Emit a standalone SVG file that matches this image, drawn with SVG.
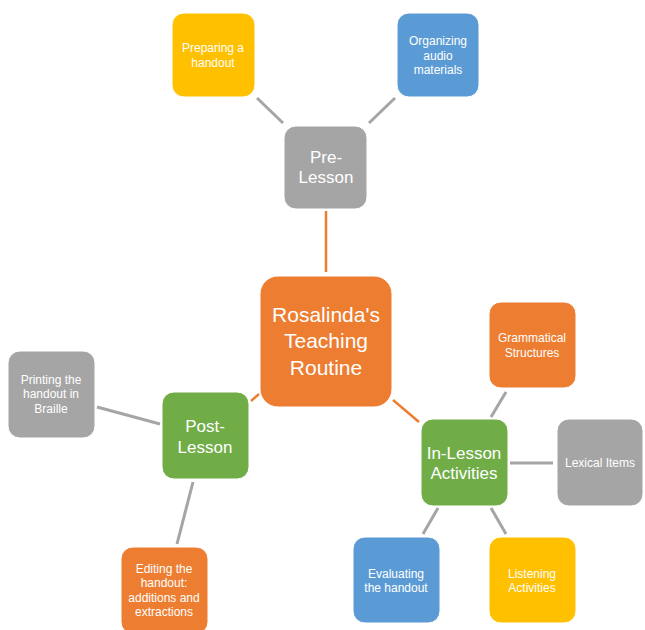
<svg xmlns="http://www.w3.org/2000/svg" width="645" height="630" viewBox="0 0 645 630">
  <style>
    .box { stroke: #ffffff; stroke-width: 1; }
    .orange { fill: #ED7D31; }
    .gray { fill: #A5A5A5; }
    .yellow { fill: #FFC000; }
    .blue { fill: #5B9BD5; }
    .green { fill: #70AD47; }
    text { font-family: "Liberation Sans", Arial, sans-serif; fill: #ffffff; text-anchor: middle; }
    .small { font-size: 12px; }
    .mid { font-size: 17px; }
    .big { font-size: 21px; }
    .link-gray { stroke: #A5A5A5; stroke-width: 3; fill: none; }
    .link-orange { stroke: #ED7D31; stroke-width: 2.5; fill: none; }
  </style>
  <rect width="645" height="630" fill="#ffffff"/>

  <!-- connectors -->
  <g id="connectors">
    <line class="link-orange" x1="326" y1="211" x2="326" y2="272"/>
    <line class="link-orange" x1="251" y1="401" x2="259" y2="394"/>
    <line class="link-orange" x1="393" y1="400" x2="419" y2="422"/>
    <line class="link-gray" x1="257" y1="98" x2="283" y2="123"/>
    <line class="link-gray" x1="395" y1="98" x2="369" y2="123"/>
    <line class="link-gray" x1="97" y1="407" x2="160" y2="424"/>
    <line class="link-gray" x1="193" y1="482" x2="177" y2="544"/>
    <line class="link-gray" x1="491" y1="417" x2="506" y2="392"/>
    <line class="link-gray" x1="510" y1="463" x2="553" y2="463"/>
    <line class="link-gray" x1="438" y1="508" x2="423" y2="534"/>
    <line class="link-gray" x1="491" y1="508" x2="506" y2="534"/>
  </g>

  <!-- central node -->
  <g id="routine">
    <rect class="box orange" x="260" y="276" width="132" height="131" rx="18"/>
    <text class="big" x="326" y="322">Rosalinda's</text>
    <text class="big" x="326" y="348">Teaching</text>
    <text class="big" x="326" y="375">Routine</text>
  </g>

  <!-- pre-lesson branch -->
  <g id="pre-lesson">
    <rect class="box gray" x="284" y="126" width="83" height="83" rx="12"/>
    <text class="mid" x="326" y="163">Pre-</text>
    <text class="mid" x="326" y="183">Lesson</text>
  </g>
  <g id="preparing-handout">
    <rect class="box yellow" x="172" y="13" width="83" height="84" rx="12"/>
    <text class="small" x="213" y="52">Preparing a</text>
    <text class="small" x="213" y="67">handout</text>
  </g>
  <g id="organizing-audio">
    <rect class="box blue" x="397" y="13" width="82" height="84" rx="12"/>
    <text class="small" x="438" y="45">Organizing</text>
    <text class="small" x="438" y="60">audio</text>
    <text class="small" x="438" y="74">materials</text>
  </g>

  <!-- post-lesson branch -->
  <g id="post-lesson">
    <rect class="box green" x="162" y="392" width="87" height="87" rx="12"/>
    <text class="mid" x="205" y="432">Post-</text>
    <text class="mid" x="205" y="453">Lesson</text>
  </g>
  <g id="printing-braille">
    <rect class="box gray" x="8" y="351" width="87" height="87" rx="12"/>
    <text class="small" x="51" y="384">Printing the</text>
    <text class="small" x="51" y="398">handout in</text>
    <text class="small" x="51" y="413">Braille</text>
  </g>
  <g id="editing-handout">
    <rect class="box orange" x="121" y="547" width="87" height="87" rx="12"/>
    <text class="small" x="164" y="573">Editing the</text>
    <text class="small" x="164" y="587">handout:</text>
    <text class="small" x="164" y="602">additions and</text>
    <text class="small" x="164" y="616">extractions</text>
  </g>

  <!-- in-lesson branch -->
  <g id="in-lesson">
    <rect class="box green" x="421" y="419" width="87" height="87" rx="12"/>
    <text class="mid" x="464" y="459">In-Lesson</text>
    <text class="mid" x="464" y="479">Activities</text>
  </g>
  <g id="grammatical-structures">
    <rect class="box orange" x="489" y="302" width="87" height="86" rx="12"/>
    <text class="small" x="532" y="342">Grammatical</text>
    <text class="small" x="532" y="357">Structures</text>
  </g>
  <g id="lexical-items">
    <rect class="box gray" x="557" y="419" width="86" height="87" rx="12"/>
    <text class="small" x="600" y="467">Lexical Items</text>
  </g>
  <g id="evaluating-handout">
    <rect class="box blue" x="353" y="537" width="87" height="86" rx="12"/>
    <text class="small" x="396" y="578">Evaluating</text>
    <text class="small" x="396" y="592">the handout</text>
  </g>
  <g id="listening-activities">
    <rect class="box yellow" x="489" y="537" width="87" height="86" rx="12"/>
    <text class="small" x="532" y="578">Listening</text>
    <text class="small" x="532" y="592">Activities</text>
  </g>
</svg>
